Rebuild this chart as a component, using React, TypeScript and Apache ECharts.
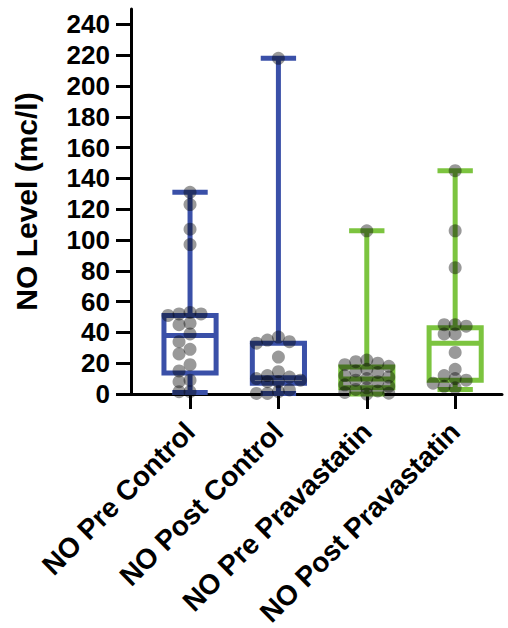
import React, { useEffect, useRef } from "react";
import * as echarts from "echarts";

// ---- data ----
const categories = ["NO Pre Control", "NO Post Control", "NO Pre Pravastatin", "NO Post Pravastatin"];

const preControl = [131, 123, 107, 97, 53, 52, 52, 51, 46, 45, 39, 34, 29, 26, 19, 15, 9, 8, 1.5, 1.5];
const postControl = [218, 37, 35, 34, 33, 24, 14.5, 12, 11, 10, 9, 8, 8, 2.6, 1.5, 0.4, 0.4];
const prePrava = [106, 22, 21, 20, 19, 18, 16, 15, 14, 12, 11, 10, 9, 8, 6, 5, 4, 3, 2, 1, 0.5, 0];
const postPrava = [145, 106, 82, 45, 45, 44, 39, 39, 27, 16, 12, 10, 9, 7, 5, 4];

// box stats: [min, q1, median, q3, max]
const boxPreControl = [1, 13.6, 38, 51, 131];
const boxPostControl = [0.4, 7, 10.5, 33, 218];
const boxPrePrava = [0, 4, 9.7, 17.5, 106];
const boxPostPrava = [3, 9, 33, 43, 145];

const yTicks = [0, 20, 40, 60, 80, 100, 120, 140, 160, 180, 200, 220, 240];

// ---- styles ----
const BLUE = "#3a50a8";
const GREEN = "#7cc43f";
const boxColors = [BLUE, BLUE, GREEN, GREEN];
const FONT = "'Liberation Sans', Arial, Helvetica, sans-serif";

const groups = [preControl, postControl, prePrava, postPrava];
const boxes = [boxPreControl, boxPostControl, boxPrePrava, boxPostPrava];

export default function App() {
  const ref = useRef<HTMLDivElement>(null);

  useEffect(() => {
    if (!ref.current) return;
    const chart = echarts.init(ref.current, undefined, { renderer: "svg" });

    const boxData = boxes.map((b, i) => [i, ...b]);

    const baseOption: any = {
      animation: false,
      grid: {
        left: 131,
        right: 6,
        top: 9,
        bottom: 234,
        containLabel: false,
        outerBoundsMode: "none",
      },
      xAxis: {
        type: "value",
        min: -0.668,
        max: 3.53,
        splitLine: { show: false },
        axisLine: { onZero: false, lineStyle: { color: "#000", width: 3 } },
        axisTick: {
          show: true,
          length: 15,
          customValues: [0, 1, 2, 3],
          lineStyle: { color: "#000", width: 3 },
        },
        axisLabel: {
          customValues: [0, 1, 2, 3],
          formatter: (v: number) => categories[Math.round(v)] ?? "",
          rotate: 45,
          margin: 33,
          fontSize: 28,
          fontWeight: "bold",
          fontFamily: FONT,
          color: "#000",
        },
      },
      yAxis: {
        type: "value",
        min: 0,
        max: 250,
        name: "NO Level (mc/l)",
        nameLocation: "middle",
        nameRotate: 90,
        nameGap: 90,
        nameTextStyle: { fontSize: 30, fontWeight: "bold", fontFamily: FONT, color: "#000" },
        splitLine: { show: false },
        axisLine: { show: true, onZero: false, lineStyle: { color: "#000", width: 3 } },
        axisTick: {
          show: true,
          length: 15,
          customValues: yTicks,
          lineStyle: { color: "#000", width: 3 },
        },
        axisLabel: {
          customValues: yTicks,
          margin: 21,
          fontSize: 26,
          fontWeight: "bold",
          fontFamily: FONT,
          color: "#000",
        },
      },
      series: [
        {
          type: "custom",
          id: "boxes",
          data: boxData,
          encode: { x: 0, y: [1, 2, 3, 4, 5] },
          renderItem: (params: any, api: any) => {
            const x = api.value(0);
            const pMin = api.coord([x, api.value(1)]);
            const pQ1 = api.coord([x, api.value(2)]);
            const pMed = api.coord([x, api.value(3)]);
            const pQ3 = api.coord([x, api.value(4)]);
            const pMax = api.coord([x, api.value(5)]);
            const unit = api.size([1, 0])[0];
            const halfBox = unit * 0.295;
            const halfCap = unit * 0.2;
            const color = boxColors[x];
            const style = { stroke: color, lineWidth: 5, fill: "none" };
            const cx = pMed[0];
            return {
              type: "group",
              children: [
                { type: "line", shape: { x1: cx, y1: pMax[1], x2: cx, y2: pQ3[1] }, style },
                { type: "line", shape: { x1: cx, y1: pMin[1], x2: cx, y2: pQ1[1] }, style },
                { type: "line", shape: { x1: cx - halfCap, y1: pMax[1], x2: cx + halfCap, y2: pMax[1] }, style },
                { type: "line", shape: { x1: cx - halfCap, y1: pMin[1], x2: cx + halfCap, y2: pMin[1] }, style },
                {
                  type: "rect",
                  shape: { x: cx - halfBox, y: pQ3[1], width: 2 * halfBox, height: pQ1[1] - pQ3[1] },
                  style,
                },
                { type: "line", shape: { x1: cx - halfBox, y1: pMed[1], x2: cx + halfBox, y2: pMed[1] }, style },
              ],
            };
          },
          z: 2,
        },
        {
          type: "scatter",
          id: "dots",
          data: [],
          symbolSize: 13,
          itemStyle: { color: "rgba(0,0,0,0.5)" },
          z: 3,
        },
      ],
    };

    chart.setOption(baseOption);

    // beeswarm layout in pixel space
    const p0 = chart.convertToPixel({ xAxisIndex: 0, yAxisIndex: 0 }, [0, 0]) as number[];
    const p1 = chart.convertToPixel({ xAxisIndex: 0, yAxisIndex: 0 }, [1, 100]) as number[];
    const kx = p1[0] - p0[0];
    const ky = (p0[1] - p1[1]) / 100;
    const step = 11;
    const minDist = 8.5;
    const order = [0, -1, 1, -2, 2];

    const dots: number[][] = [];
    groups.forEach((vals, gi) => {
      const sorted = [...vals].sort((a, b) => b - a);
      const placed: { dx: number; py: number }[] = [];
      sorted.forEach((v) => {
        const py = v * ky;
        let chosen = 0;
        let bestScore = -1;
        let found = false;
        for (const k of order) {
          const dx = k * step;
          let md = Infinity;
          placed.forEach((p) => {
            const ddx = p.dx - dx;
            const ddy = p.py - py;
            md = Math.min(md, Math.sqrt(ddx * ddx + ddy * ddy));
          });
          if (md >= minDist) {
            chosen = dx;
            found = true;
            break;
          }
          if (md > bestScore) {
            bestScore = md;
            chosen = dx;
          }
        }
        if (!found && bestScore < 0) chosen = 0;
        placed.push({ dx: chosen, py });
        dots.push([gi + chosen / kx, v]);
      });
    });

    chart.setOption({ series: [{ id: "boxes" }, { id: "dots", data: dots }] });

    return () => chart.dispose();
  }, []);

  return (
    <div
      ref={ref}
      style={{ position: "absolute", left: 0, top: 0, width: 508, height: 628, background: "#fff" }}
    />
  );
}
